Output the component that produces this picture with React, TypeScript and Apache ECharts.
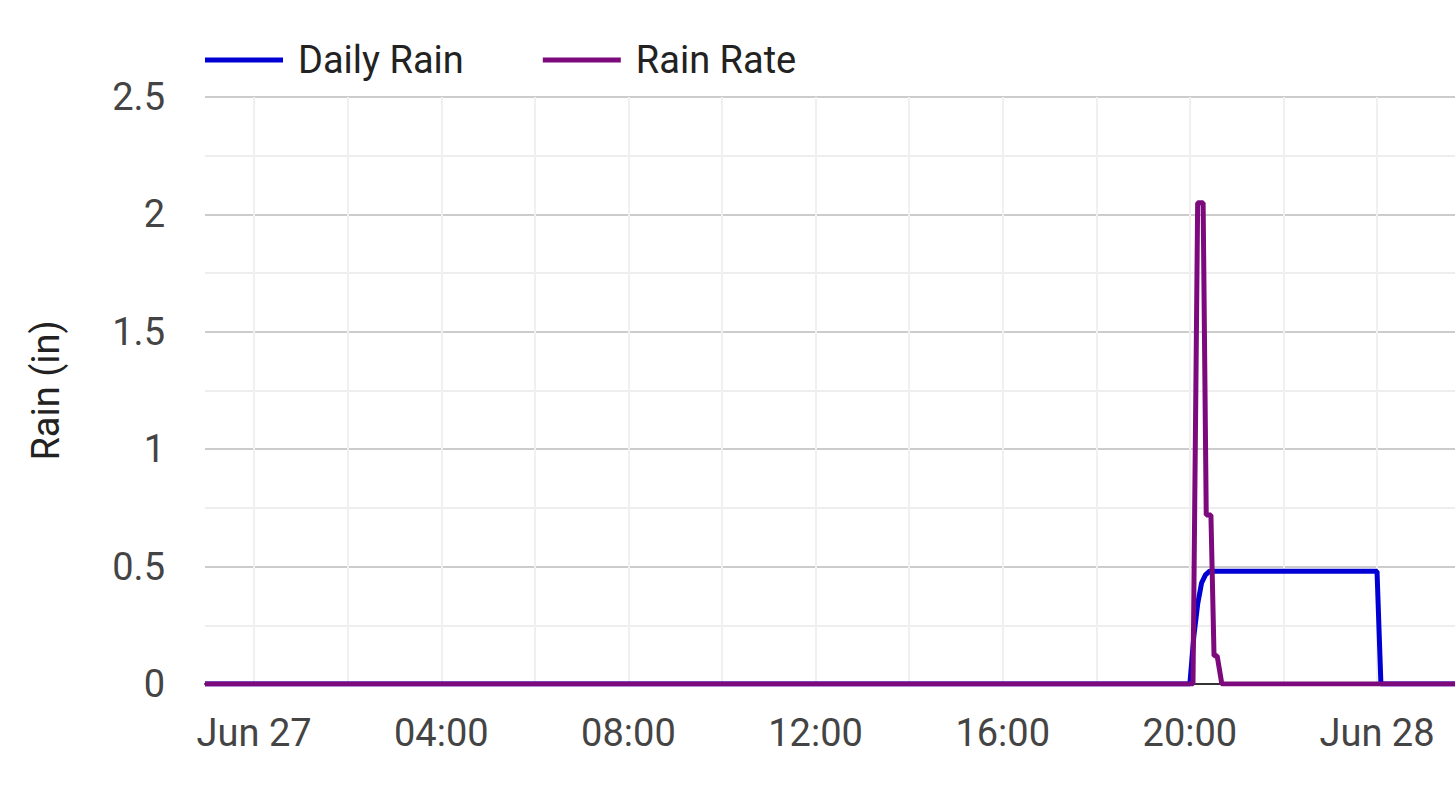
import React, { useEffect, useRef } from "react";
import * as echarts from "echarts";

const t = (d: number, h: number, m: number) => new Date(2024, 5, d, h, m).getTime();

const X_MIN = t(26, 22, 57);
const X_MAX = t(28, 1, 40);

const seriesNames = ["Daily Rain", "Rain Rate"];
const seriesColors = ["#0000d4", "#7d0a7d"];

const dailyRainTimes = [
  t(26, 22, 57), t(27, 20, 0), t(27, 20, 5), t(27, 20, 10), t(27, 20, 15),
  t(27, 20, 20), t(27, 20, 25), t(27, 20, 30), t(28, 0, 0), t(28, 0, 5), t(28, 1, 40),
];
const dailyRainValues = [0, 0, 0.2, 0.34, 0.43, 0.465, 0.48, 0.48, 0.48, 0, 0];

const rainRateTimes = [
  t(26, 22, 57), t(27, 20, 4), t(27, 20, 10), t(27, 20, 17), t(27, 20, 21),
  t(27, 20, 27), t(27, 20, 31), t(27, 20, 35), t(27, 20, 41), t(28, 1, 40),
];
const rainRateValues = [0, 0, 2.05, 2.05, 0.72, 0.72, 0.12, 0.12, 0, 0];

// vertical grid lines every two hours
const verticalGridTimes = [
  t(27, 0, 0), t(27, 2, 0), t(27, 4, 0), t(27, 6, 0), t(27, 8, 0), t(27, 10, 0), t(27, 12, 0),
  t(27, 14, 0), t(27, 16, 0), t(27, 18, 0), t(27, 20, 0), t(27, 22, 0), t(28, 0, 0),
];

const yTicks = { min: 0, max: 2.5, interval: 0.5 };
const FONT = "Roboto";

const pad = (n: number) => (n < 10 ? "0" + n : "" + n);
const MONTHS = ["Jan", "Feb", "Mar", "Apr", "May", "Jun", "Jul", "Aug", "Sep", "Oct", "Nov", "Dec"];

export default function App() {
  const ref = useRef<HTMLDivElement>(null);
  useEffect(() => {
    if (!ref.current) return;
    const chart = echarts.init(ref.current, null, { renderer: "svg" });
    const toPairs = (ts: number[], vs: number[]) => ts.map((x, i) => [x, vs[i]]);
    chart.setOption({
      animation: false,
      backgroundColor: "#ffffff",
      textStyle: { fontFamily: FONT },
      legend: {
        left: 205,
        top: 41,
        padding: 0,
        icon: "rect",
        itemWidth: 78,
        itemHeight: 5,
        itemGap: 79,
        textStyle: { fontSize: 38, color: "#222", fontFamily: FONT, padding: [0, 0, 0, 10] },
        data: seriesNames,
      },
      grid: { left: 205, right: 0, top: 97, bottom: 118, containLabel: false },
      xAxis: {
        type: "time",
        min: X_MIN,
        max: X_MAX,
        minInterval: 4 * 3600 * 1000,
        maxInterval: 4 * 3600 * 1000,
        axisLine: { show: true, lineStyle: { color: "#333", width: 2 } },
        axisTick: { show: false },
        axisLabel: {
          fontSize: 38,
          color: "#444",
          fontFamily: FONT,
          margin: 30,
          showMinLabel: false,
          showMaxLabel: false,
          formatter: (v: number) => {
            const d = new Date(v);
            if (d.getMinutes() !== 0 || d.getHours() % 4 !== 0) return "";
            if (d.getHours() === 0) return MONTHS[d.getMonth()] + " " + d.getDate();
            return pad(d.getHours()) + ":" + pad(d.getMinutes());
          },
        },
        splitLine: { show: false },
      },
      yAxis: {
        type: "value",
        min: yTicks.min,
        max: yTicks.max,
        interval: yTicks.interval,
        name: "Rain (in)",
        nameLocation: "middle",
        nameGap: 140,
        nameTextStyle: { fontSize: 38, color: "#222", fontFamily: FONT },
        axisLine: { show: false },
        axisTick: { show: false },
        axisLabel: { fontSize: 38, color: "#444", fontFamily: FONT, margin: 40 },
        splitLine: { show: true, lineStyle: { color: "#cccccc", width: 2 } },
        minorTick: { show: false, splitNumber: 2 },
        minorSplitLine: { show: true, lineStyle: { color: "#eeeeee", width: 2 } },
      },
      series: [
        {
          name: "grid",
          type: "line",
          data: [],
          z: 0,
          silent: true,
          markLine: {
            silent: true,
            z: 0,
            symbol: "none",
            label: { show: false },
            lineStyle: { color: "#f0f0f0", width: 2, type: "solid" },
            data: verticalGridTimes.map((x) => ({ xAxis: x })),
          },
        },
        {
          name: seriesNames[0],
          type: "line",
          showSymbol: false,
          symbol: "none",
          color: seriesColors[0],
          lineStyle: { width: 5, color: seriesColors[0] },
          data: toPairs(dailyRainTimes, dailyRainValues),
          z: 2,
        },
        {
          name: seriesNames[1],
          type: "line",
          showSymbol: false,
          symbol: "none",
          color: seriesColors[1],
          lineStyle: { width: 5, color: seriesColors[1] },
          data: toPairs(rainRateTimes, rainRateValues),
          z: 3,
        },
      ],
    });
    return () => chart.dispose();
  }, []);
  return (
    <div
      ref={ref}
      style={{ position: "fixed", left: 0, top: 0, width: 1455, height: 802, background: "#fff" }}
    />
  );
}
